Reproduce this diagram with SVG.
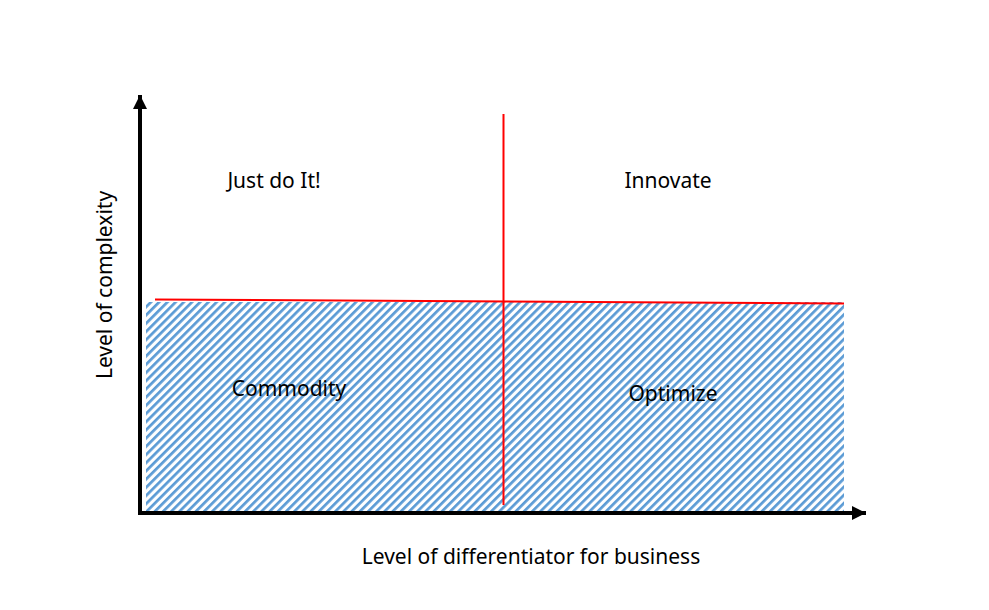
<svg xmlns="http://www.w3.org/2000/svg" width="989" height="610" viewBox="0 0 989 610">
  <style>
    .lbl { font-family: "Noto Sans", "Open Sans", "Liberation Sans", sans-serif; font-size: 21px; fill: #000; text-anchor: middle; }
    .axis { stroke: #000; stroke-width: 4; fill: none; }
    .red { stroke: #ff0000; stroke-width: 2; fill: none; }
  </style>
  <defs>
    <pattern id="hatch" patternUnits="userSpaceOnUse" width="5.8" height="5.8" patternTransform="rotate(45)">
      <rect x="0" y="0" width="2.7" height="5.8" fill="#5b9bd5"/>
    </pattern>
    <marker id="arrow" markerUnits="userSpaceOnUse" markerWidth="14" markerHeight="14" refX="14" refY="7" orient="auto">
      <path d="M0,0 L14,7 L0,14 Z" fill="#000"/>
    </marker>
  </defs>
  <rect width="989" height="610" fill="#fff"/>
  <g id="hatched-area">
    <rect x="146" y="302" width="698" height="209" fill="url(#hatch)"/>
  </g>
  <g id="connectors">
    <line class="red" x1="155" y1="299.5" x2="844" y2="303.5"/>
    <line class="red" x1="503.5" y1="114" x2="503.5" y2="505"/>
    <line class="axis" x1="140" y1="515" x2="140" y2="95" marker-end="url(#arrow)"/>
    <line class="axis" x1="138" y1="513" x2="866" y2="513" marker-end="url(#arrow)"/>
  </g>
  <g id="just-do-it"><text class="lbl" x="274" y="188">Just do It!</text></g>
  <g id="innovate"><text class="lbl" x="668" y="188">Innovate</text></g>
  <g id="commodity"><text class="lbl" x="289" y="396">Commodity</text></g>
  <g id="optimize"><text class="lbl" x="673" y="401">Optimize</text></g>
  <g id="y-label"><text class="lbl" transform="translate(112,285) rotate(-90)" x="0" y="0">Level of complexity</text></g>
  <g id="x-label"><text class="lbl" x="531" y="564">Level of differentiator for business</text></g>
</svg>
